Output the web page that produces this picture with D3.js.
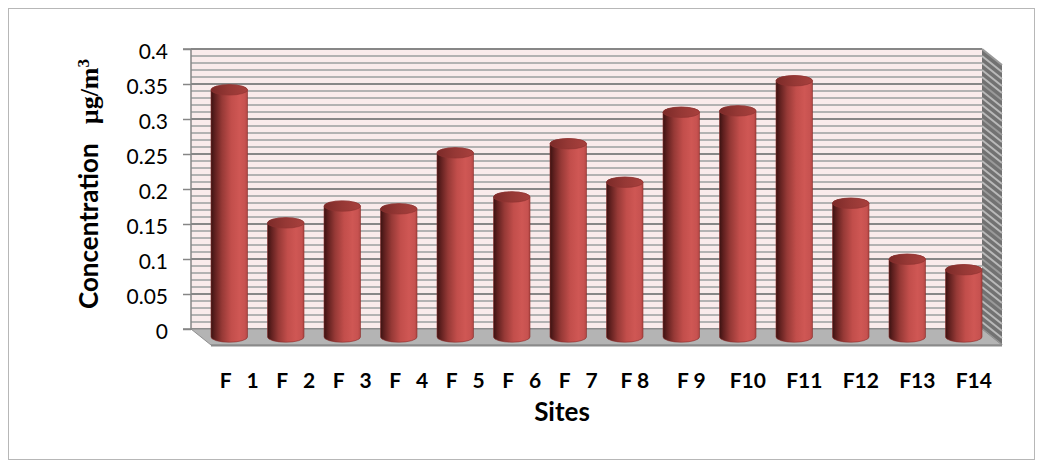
<!DOCTYPE html>
<html>
<head>
<meta charset="utf-8">
<script src="https://cdn.jsdelivr.net/npm/d3@7"></script>
<style>
  body { margin: 0; background: #fff; }
  svg { display: block; }
  text { white-space: pre; }
</style>
</head>
<body>
<svg id="chart" width="1043" height="468"></svg>
<script>
// Sites and their measured concentrations (µg/m³)
const sites = ["F   1", "F   2", "F   3", "F   4", "F   5", "F   6", "F   7",
               "F 8", "F 9", "F10", "F11", "F12", "F13", "F14"];
const concentration = [0.353, 0.163, 0.187, 0.183, 0.263, 0.2, 0.276,
                       0.221, 0.321, 0.323, 0.366, 0.191, 0.111, 0.096];
const tickValues = [0, 0.05, 0.1, 0.15, 0.2, 0.25, 0.3, 0.35, 0.4];
const tickLabels = ["0", "0.05", "0.1", "0.15", "0.2", "0.25", "0.3", "0.35", "0.4"];
const minorStep = 0.01;

const svg = d3.select("#chart");

// back wall plane and the depth vector of the 3-D box
const wall = { left: 191, right: 982 };
const depth = { dx: 20, dy: 16 };

const x = d3.scaleBand().domain(sites).range([wall.left, wall.right]).padding(0);
const y = d3.scaleLinear().domain([0, 0.4]).range([329, 49]);

// projection: point on the back plane pushed forward by a fraction of the depth
const proj = (px, v, f) => [px + depth.dx * f, y(v) + depth.dy * f];

const defs = svg.append("defs");

// cylinder body shading
const gBody = defs.append("linearGradient").attr("id", "cylBody");
[[0, "#3b1312"], [0.1, "#5e1f1e"], [0.3, "#963936"], [0.55, "#c24e4b"],
 [0.78, "#cf5754"], [0.93, "#c75250"], [1, "#b04542"]]
  .forEach(([o, c]) => gBody.append("stop").attr("offset", o).attr("stop-color", c));

const gTop = defs.append("linearGradient").attr("id", "cylTop");
[[0, "#7b2a28"], [0.5, "#963835"], [1, "#a8403d"]]
  .forEach(([o, c]) => gTop.append("stop").attr("offset", o).attr("stop-color", c));

// outer chart border
svg.append("rect")
  .attr("x", 8.5).attr("y", 8.5).attr("width", 1026).attr("height", 451)
  .attr("fill", "#fff").attr("stroke", "#b7b7b7").attr("stroke-width", 1);

// back wall
svg.append("rect")
  .attr("x", wall.left).attr("y", y(0.4))
  .attr("width", wall.right - wall.left).attr("height", y(0) - y(0.4))
  .attr("fill", "#f9ebeb");

// gridlines on the back wall (minor every 0.01, major every 0.05)
const gridVals = d3.range(0, 0.4 + 1e-9, minorStep).map(v => +v.toFixed(2));
const isMajor = v => Math.abs(v / 0.05 - Math.round(v / 0.05)) < 1e-6;

svg.append("g").selectAll("line")
  .data(gridVals)
  .join("line")
  .attr("x1", wall.left).attr("x2", wall.right)
  .attr("y1", d => y(d)).attr("y2", d => y(d))
  .attr("stroke", d => isMajor(d) ? "#878787" : "#b2b2b2")
  .attr("stroke-width", 2);

// right side wall
const sw = [proj(wall.right, 0.4, 0), proj(wall.right, 0.4, 1),
            proj(wall.right, 0, 1), proj(wall.right, 0, 0)];
svg.append("path")
  .attr("d", "M" + sw.join("L") + "Z")
  .attr("fill", "#727272");
svg.append("g").selectAll("line")
  .data(gridVals)
  .join("line")
  .attr("x1", wall.right).attr("y1", d => proj(wall.right, d, 0)[1])
  .attr("x2", d => proj(wall.right, d, 1)[0]).attr("y2", d => proj(wall.right, d, 1)[1])
  .attr("stroke", d => isMajor(d) ? "#9a9a9a" : "#b9b9b9")
  .attr("stroke-width", 2);

// floor
const fl = [proj(wall.left, 0, 0), proj(wall.right, 0, 0),
            proj(wall.right, 0, 1), proj(wall.left, 0, 1)];
svg.append("path")
  .attr("d", "M" + fl.join("L") + "Z")
  .attr("fill", "#b4b4b4")
  .attr("stroke", "#8e8e8e").attr("stroke-width", 1);
svg.append("line")
  .attr("x1", fl[3][0]).attr("y1", fl[3][1] + 0.5)
  .attr("x2", fl[2][0]).attr("y2", fl[2][1] + 0.5)
  .attr("stroke", "#8a8a8a").attr("stroke-width", 2);

// vertical axis line and ticks
const yAxis = d3.axisLeft(y).tickValues(tickValues).tickSize(8)
  .tickFormat((d, i) => tickLabels[i]).tickPadding(15);
const ga = svg.append("g").attr("transform", `translate(${wall.left},0)`).call(yAxis);
ga.select(".domain").attr("stroke", "#868686").attr("stroke-width", 1.5)
  .attr("d", `M-8,${y(0.4)}H0V${y(0)}H-8`);
ga.selectAll(".tick line").attr("stroke", "#868686").attr("stroke-width", 1.5);
ga.selectAll(".tick text")
  .attr("fill", "#000")
  .attr("font-family", "Lato, 'Open Sans', sans-serif")
  .attr("font-size", 21)
  .attr("dy", "0.45em");

// cylindrical columns, standing at mid-depth
const r = 18.25, ry = 5.2;
const bars = svg.append("g").selectAll("g")
  .data(sites.map((s, i) => ({ s, v: concentration[i] })))
  .join("g");

bars.append("path")
  .attr("d", d => {
    const [cx, yb] = proj(x(d.s) + x.bandwidth() / 2, 0, 0.5);
    const yt = proj(0, d.v, 0.5)[1];
    return `M${cx - r},${yt}L${cx - r},${yb}` +
           `A${r},${ry} 0 0 0 ${cx + r},${yb}` +
           `L${cx + r},${yt}A${r},${ry} 0 0 0 ${cx - r},${yt}Z`;
  })
  .attr("fill", "url(#cylBody)")
  .attr("stroke", "#8a2f2d").attr("stroke-width", 0.6);

bars.append("ellipse")
  .attr("cx", d => proj(x(d.s) + x.bandwidth() / 2, 0, 0.5)[0])
  .attr("cy", d => proj(0, d.v, 0.5)[1])
  .attr("rx", r).attr("ry", ry)
  .attr("fill", "url(#cylTop)")
  .attr("stroke", "#8e3230").attr("stroke-width", 0.6);

// category labels along the front edge of the floor
svg.append("g").selectAll("text")
  .data(sites)
  .join("text")
  .attr("x", d => proj(x(d) + x.bandwidth() / 2, 0, 1)[0])
  .attr("y", 388)
  .attr("text-anchor", "middle")
  .attr("font-family", "Lato, 'Open Sans', sans-serif")
  .attr("font-weight", "bold")
  .attr("font-size", 21)
  .attr("fill", "#000")
  .text(d => d);

// axis titles
svg.append("text")
  .attr("x", 562).attr("y", 421)
  .attr("text-anchor", "middle")
  .attr("font-family", "Lato, 'Open Sans', sans-serif")
  .attr("font-weight", "bold")
  .attr("font-size", 26)
  .text("Sites");

const yt = svg.append("text")
  .attr("transform", "translate(98,184) rotate(-90)")
  .attr("text-anchor", "middle")
  .attr("font-weight", "bold")
  .attr("font-size", 26);
yt.append("tspan").attr("font-family", "Lato, 'Open Sans', sans-serif").text("Concentration   ");
yt.append("tspan").attr("font-family", "'Liberation Serif', 'DejaVu Serif', serif").text("µg/m");
yt.append("tspan").attr("font-family", "'Liberation Serif', 'DejaVu Serif', serif")
  .attr("font-size", 17).attr("dy", "-0.55em").text("3");
</script>
</body>
</html>
